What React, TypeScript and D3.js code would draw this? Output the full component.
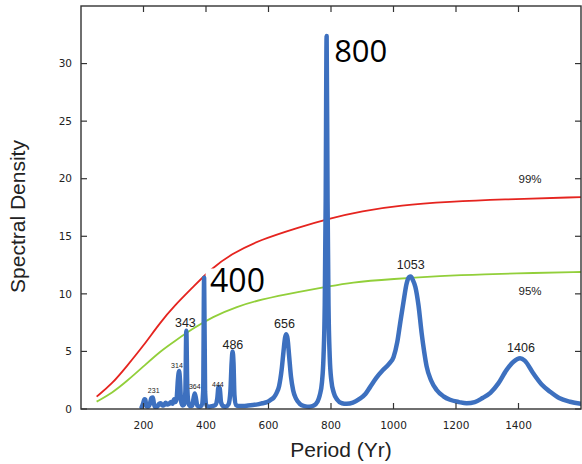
import React from "react";
import * as d3 from "d3";

// spectral density
const periods = [
  194, 199, 203, 206, 209, 214, 220, 225, 230, 233, 237, 244, 250, 255, 260, 266, 271, 276, 282, 288,
  293, 298, 302, 306, 310, 314, 317, 320, 325, 330, 334, 337, 340, 344, 350, 356, 360, 364, 368, 372,
  379, 386, 391, 394, 397, 402, 410, 420, 430, 436, 440, 444, 448, 455, 463, 472, 478, 482, 485, 488,
  491, 496, 505, 520, 535, 550, 565, 580, 595, 607, 617, 626, 634, 642, 648, 653, 657, 661, 666, 672,
  679, 688, 700, 715, 730, 745, 756, 764, 771, 776, 780, 783, 786, 789, 792, 796, 801, 809, 820, 835,
  850, 870, 890, 910, 925, 945, 967, 985, 1000, 1012, 1021, 1032, 1042, 1050, 1055, 1062, 1070, 1080,
  1090, 1098, 1106, 1120, 1138, 1160, 1181, 1210, 1234, 1260, 1285, 1310, 1335, 1362, 1384, 1405,
  1420, 1447, 1475, 1501, 1530, 1565, 1600,
];
const density = [
  0.15, 0.5, 0.85, 0.8, 0.25, 0.2, 0.4, 0.95, 1.0, 0.5, 0.15, 0.2, 0.45, 0.5, 0.3, 0.35, 0.55, 0.4, 0.45, 0.6,
  0.45, 0.85, 0.6, 0.9, 2.5, 3.3, 2.4, 0.7, 0.3, 0.4, 1.5, 6.8, 2.0, 0.5, 0.25, 0.3, 0.9, 1.35, 0.9, 0.3,
  0.2, 0.3, 1.5, 11.4, 1.5, 0.3, 0.2, 0.25, 0.35, 0.9, 1.9, 1.8, 0.6, 0.25, 0.2, 0.4, 1.5, 4.0, 5.0, 4.0,
  1.2, 0.35, 0.25, 0.25, 0.3, 0.35, 0.4, 0.5, 0.6, 0.8, 1.0, 1.4, 2.0, 3.4, 5.0, 6.2, 6.5, 6.1, 4.6, 2.8,
  1.6, 0.9, 0.45, 0.25, 0.2, 0.3, 0.6, 1.2, 2.3, 4.5, 9.0, 18, 32.4, 18, 9.0, 4.5, 2.5, 1.4, 0.8, 0.5,
  0.45, 0.55, 0.85, 1.3, 1.9, 2.7, 3.4, 3.9, 4.5, 5.8, 7.4, 9.3, 10.9, 11.45, 11.5, 11.2, 10.6, 9.0,
  6.6, 5.0, 3.7, 2.5, 1.65, 1.1, 0.8, 0.6, 0.5, 0.6, 0.95, 1.4, 2.2, 3.4, 4.1, 4.4,
  4.2, 3.1, 2.1, 1.5, 0.95, 0.63, 0.45,
];

// significance levels
const levelPeriods99 = [50, 100, 146, 200, 253, 300, 359, 413, 480, 573, 701, 786, 900, 1021, 1180, 1341, 1600];
const level99 = [1.07, 2.2, 3.7, 5.5, 7.5, 9.0, 10.6, 12.1, 13.45, 14.7, 15.8, 16.5, 17.2, 17.7, 18.0, 18.2, 18.4];
const levelPeriods95 = [50, 100, 146, 200, 253, 300, 359, 420, 500, 573, 701, 786, 861, 1000, 1150, 1287, 1450, 1600];
const level95 = [0.64, 1.4, 2.4, 3.7, 5.0, 5.9, 7.0, 8.0, 8.9, 9.5, 10.2, 10.6, 11.0, 11.3, 11.55, 11.7, 11.82, 11.9];

const xTicks = [200, 400, 600, 800, 1000, 1200, 1400];
const yTicks = [0, 5, 10, 15, 20, 25, 30];

// peak labels: text, period, density where the label sits
const peakText = ["231", "314", "364", "444", "343", "486", "656", "1053", "1406"];
const peakAt = [232.6, 307, 364, 438, 334, 486, 651, 1055, 1408];
const peakLevel = [1.36, 3.53, 1.74, 1.94, 7.15, 5.19, 7.01, 12.13, 4.98];
const peakSize = [7, 7, 7, 7, 12.5, 12.5, 12.5, 12.5, 12.5];

const W = 582;
const H = 464;
const left = 81, right = 581, top = 6, bottom = 409;

export default function App() {
  const x = d3.scaleLinear().domain([0, 1600]).range([left, right]);
  const y = d3.scaleLinear().domain([0, 35]).range([bottom, top]);

  const line = d3
    .line<[number, number]>()
    .x(d => x(d[0]))
    .y(d => y(d[1]))
    .curve(d3.curveMonotoneX);

  // the significance curves are smooth, so a spline through the read points
  const smooth = d3
    .line<[number, number]>()
    .x(d => x(d[0]))
    .y(d => y(d[1]))
    .curve(d3.curveBasis);

  const spec = line(periods.map((p, i) => [p, density[i]] as [number, number])) || "";
  const red = smooth(levelPeriods99.map((p, i) => [p, level99[i]] as [number, number])) || "";
  const green = smooth(levelPeriods95.map((p, i) => [p, level95[i]] as [number, number])) || "";

  const tickFont = "'DejaVu Sans', sans-serif";
  const labelFont = "'Liberation Sans', Arial, sans-serif";
  const bigFont = "'Open Sans', 'Noto Sans', sans-serif";
  const axisColor = "#333";

  return (
    <svg width={W} height={H} style={{ position: "absolute", left: 0, top: 0, background: "#fff" }}>
      <defs>
        <clipPath id="plot">
          <rect x={left} y={top} width={right - left} height={bottom - top} />
        </clipPath>
      </defs>

      <g clipPath="url(#plot)">
        <path d={red} fill="none" stroke="#e5241f" strokeWidth={1.8} />
        <path d={green} fill="none" stroke="#92cf3a" strokeWidth={1.8} />
        {/* white box behind the big 400 label */}
        <rect x={x(413) - 4.5} y={y(10.16) - 23.5} width={58} height={27} fill="#fff" />
        <path d={spec} fill="none" stroke="#3d70bf" strokeWidth={4.5} strokeLinejoin="round" strokeLinecap="round" />
      </g>

      {/* frame */}
      <rect x={left} y={top} width={right - left} height={bottom - top} fill="none" stroke={axisColor} strokeWidth={1.4} />

      {xTicks.map(t => (
        <g key={"x" + t}>
          <line x1={x(t)} x2={x(t)} y1={bottom} y2={bottom - 6} stroke={axisColor} strokeWidth={1.2} />
          <line x1={x(t)} x2={x(t)} y1={top} y2={top + 6} stroke={axisColor} strokeWidth={1.2} />
          <text x={x(t)} y={bottom + 20} textAnchor="middle" fontFamily={tickFont} fontSize={10.5} fill="#222">
            {t}
          </text>
        </g>
      ))}
      {yTicks.map(t => (
        <g key={"y" + t}>
          <line x1={left} x2={left + 6} y1={y(t)} y2={y(t)} stroke={axisColor} strokeWidth={1.2} />
          <line x1={right} x2={right - 6} y1={y(t)} y2={y(t)} stroke={axisColor} strokeWidth={1.2} />
          <text x={left - 9} y={y(t)} dy="0.36em" textAnchor="end" fontFamily={tickFont} fontSize={10.5} fill="#222">
            {t}
          </text>
        </g>
      ))}

      {peakText.map((t, i) => (
        <text key={t} x={x(peakAt[i])} y={y(peakLevel[i])} textAnchor="middle" fontFamily={labelFont} fontSize={peakSize[i]} fill="#222">
          {t}
        </text>
      ))}

      <text x={x(1437)} y={y(19.63)} textAnchor="middle" fontFamily={labelFont} fontSize={11.5} fill="#222">99%</text>
      <text x={x(1437)} y={y(9.9)} textAnchor="middle" fontFamily={labelFont} fontSize={11.5} fill="#222">95%</text>

      <text x={x(413)} y={y(10.16)} fontFamily={bigFont} fontSize={32} fill="#000">400</text>
      <text x={x(810)} y={y(30.14)} fontFamily={bigFont} fontSize={31} fill="#000">800</text>

      <text x={341} y={457} textAnchor="middle" fontFamily={labelFont} fontSize={21} fill="#222">Period (Yr)</text>
      <text transform="translate(25,216.5) rotate(-90)" textAnchor="middle" fontFamily={labelFont} fontSize={21} fill="#222">
        Spectral Density
      </text>
    </svg>
  );
}
